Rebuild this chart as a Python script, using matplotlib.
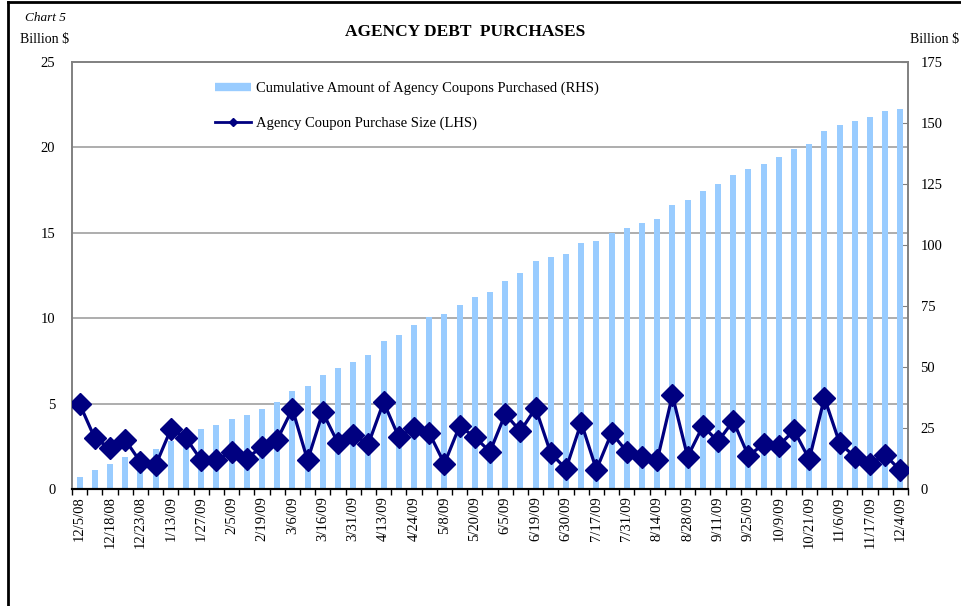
import numpy as np
import matplotlib
matplotlib.use("Agg")
import matplotlib.pyplot as plt
from matplotlib.lines import Line2D

plt.rcParams["font.family"] = ["Liberation Serif", "DejaVu Serif"]

# purchase dates (one bar / one point each)
dates = [
    "12/5/08", "12/11/08", "12/18/08", "12/19/08", "12/23/08", "12/30/08",
    "1/13/09", "1/20/09", "1/27/09", "1/29/09", "2/5/09", "2/12/09",
    "2/19/09", "2/26/09", "3/6/09", "3/12/09", "3/16/09", "3/24/09",
    "3/31/09", "4/7/09", "4/13/09", "4/21/09", "4/24/09", "5/1/09",
    "5/8/09", "5/14/09", "5/20/09", "5/29/09", "6/5/09", "6/12/09",
    "6/19/09", "6/25/09", "6/30/09", "7/9/09", "7/17/09", "7/23/09",
    "7/31/09", "8/7/09", "8/14/09", "8/21/09", "8/28/09", "9/4/09",
    "9/11/09", "9/18/09", "9/25/09", "10/2/09", "10/9/09", "10/15/09",
    "10/21/09", "10/29/09", "11/6/09", "11/12/09", "11/17/09", "11/24/09",
    "12/4/09",
]

# Agency coupon purchase size, billion $ (LHS)
purchase_size = [
    5.0, 3.0, 2.4, 2.9, 1.6, 1.4, 3.5, 3.0, 1.7, 1.7, 2.2, 1.8,
    2.5, 2.9, 4.7, 1.7, 4.5, 2.7, 3.2, 2.65, 5.1, 3.05, 3.6, 3.3,
    1.5, 3.7, 3.05, 2.2, 4.4, 3.4, 4.75, 2.1, 1.2, 3.9, 1.15, 3.3,
    2.2, 1.9, 1.7, 5.5, 1.9, 3.7, 2.8, 4.0, 1.95, 2.65, 2.55, 3.45,
    1.75, 5.35, 2.7, 1.9, 1.5, 2.0, 1.1,
]

# cumulative amount purchased, billion $ (RHS)
cumulative = [
    4.9, 7.9, 10.4, 13.2, 14.7, 16.5, 19.9, 22.8, 24.7, 26.3, 28.7, 30.4,
    32.9, 35.9, 40.3, 42.3, 46.9, 49.5, 52.3, 55.0, 60.6, 63.2, 67.2, 70.4,
    71.7, 75.5, 78.7, 80.9, 85.4, 88.7, 93.6, 95.3, 96.4, 101.0, 101.8, 104.8,
    106.9, 109.2, 110.7, 116.3, 118.5, 122.3, 125.0, 128.8, 131.2, 133.3, 136.1, 139.4,
    141.5, 146.6, 149.2, 150.9, 152.6, 154.8, 155.9,
]

lhs_ticks = [0, 5, 10, 15, 20, 25]
rhs_ticks = [0, 25, 50, 75, 100, 125, 150, 175]

bar_color = "#99CCFF"
line_color = "#000080"

fig = plt.figure(figsize=(9.62, 6.06), dpi=100)
ax = fig.add_axes([0.0748, 0.1926, 0.8691, 0.7051])
ax2 = ax.twinx()
ax.set_zorder(ax2.get_zorder() + 1)
ax.patch.set_visible(False)

x = np.arange(len(dates))

# bars on the right axis
ax2.bar(x, cumulative, width=0.4, color=bar_color, zorder=2)
ax2.set_ylim(0, 175)
ax2.set_yticks(rhs_ticks)
ax2.tick_params(axis="y", direction="in", length=5, color="#808080",
                labelsize=10.5, pad=9)
# gridlines follow the LHS ticks
for v in lhs_ticks[1:-1]:
    ax2.axhline(v * 175 / 25, color="#A0A0A0", lw=1.2, zorder=1)

# line on the left axis
ax.plot(x, purchase_size, color=line_color, lw=2.3, marker="D",
        markersize=11, zorder=3)
ax.set_ylim(0, 25)
ax.set_yticks(lhs_ticks)
ax.tick_params(axis="y", direction="in", length=0, labelsize=10.5, pad=12)

ax.set_xlim(-0.5, len(dates) - 0.5)
ax.set_xticks(np.arange(len(dates) + 1) - 0.5)
ax.set_xticklabels([])
ax.tick_params(axis="x", which="major", direction="out", length=4, width=1,
               color="black")
ax.set_xticks(x[::2], minor=True)
ax.set_xticklabels(dates[::2], minor=True, rotation=90, fontsize=10.5)
ax.tick_params(axis="x", which="minor", length=0, pad=5)

for a in (ax, ax2):
    for s in ("left", "right", "top"):
        a.spines[s].set_color("#808080")
        a.spines[s].set_linewidth(1.2)
    a.spines["bottom"].set_color("black")
    a.spines["bottom"].set_linewidth(1.5)

# legend
handles = [
    Line2D([], [], color=bar_color, lw=6, solid_capstyle="butt"),
    Line2D([], [], color=line_color, lw=2, marker="D", markersize=4),
]
labels = [
    "Cumulative Amount of Agency Coupons Purchased (RHS)",
    "Agency Coupon Purchase Size (LHS)",
]
ax.legend(handles, labels, loc="upper left", bbox_to_anchor=(0.155, 0.985),
          frameon=False, fontsize=10.5, handlelength=2.5, handletextpad=0.3,
          labelspacing=1.45)

# titles and units
fig.text(0.483, 0.948, "AGENCY DEBT  PURCHASES", ha="center", va="center",
         fontsize=12.5, fontweight="bold")
fig.text(0.026, 0.970, "Chart 5", ha="left", va="center", fontsize=9.5,
         style="italic")
fig.text(0.021, 0.934, "Billion $", ha="left", va="center", fontsize=10)
fig.text(0.946, 0.934, "Billion $", ha="left", va="center", fontsize=10)

# outer frame (left and top edges)
fig.add_artist(Line2D([0.008, 0.008], [0, 0.997], color="black", lw=2,
                      transform=fig.transFigure))
fig.add_artist(Line2D([0.008, 1.0], [0.997, 0.997], color="black", lw=2,
                      transform=fig.transFigure))

fig.savefig("out.png", dpi=100)
